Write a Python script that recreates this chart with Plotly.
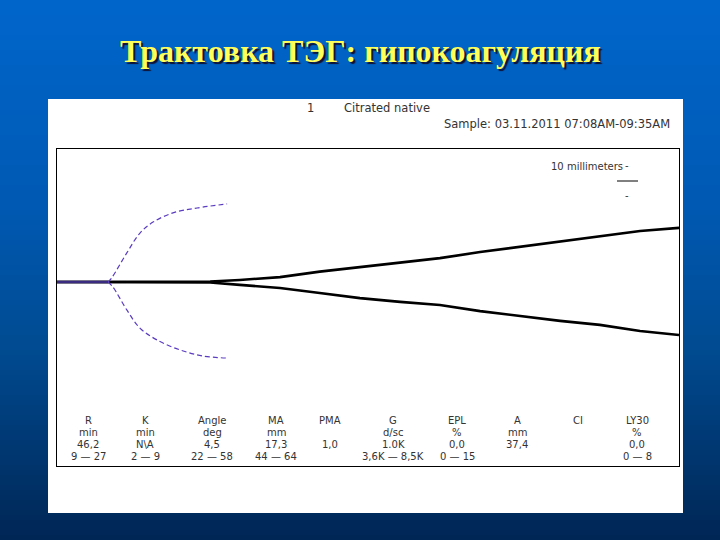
import numpy as np
import plotly.graph_objects as go

# ---------------- data ----------------
# TEG trace: time (min) vs half-amplitude (mm)
trace_time = [0, 36.2, 43.2, 52.7, 62.1, 71.6, 81.1, 90.5, 100.0, 109.4, 118.9, 128.3, 137.8, 147.0]
trace_upper = [0, 0.17, 0.7, 1.7, 3.6, 5.2, 6.6, 8.3, 10.4, 12.2, 14.2, 16.0, 17.7, 18.8]
trace_lower = [0, -0.17, -1.0, -2.1, -3.8, -5.6, -6.9, -8.0, -10.1, -11.8, -13.5, -14.9, -17.0, -18.4]

# Reference (normal) envelope
ref_base_time = [0, 12.05]
ref_base_amp = [0, 0]
ref_time_upper = [12.05, 12.9, 16.5, 19.6, 22.7, 27.4, 33.1, 40.2]
ref_upper = [0, 1.4, 10.1, 17.0, 20.8, 24.0, 25.7, 27.1]
ref_time_lower = [12.05, 13.2, 16.5, 19.6, 23.6, 29.1, 34.5, 40.2]
ref_lower = [0, -1.7, -9.7, -16.0, -20.1, -23.6, -25.7, -26.4]

# Parameter table
param_names = ["R", "K", "Angle", "MA", "PMA", "G", "EPL", "A", "CI", "LY30"]
param_units = ["min", "min", "deg", "mm", "", "d/sc", "%", "mm", "", "%"]
param_values = ["46,2", "N\\A", "4,5", "17,3", "1,0", "1.0K", "0,0", "37,4", "", "0,0"]
param_ranges = ["9 — 27", "2 — 9", "22 — 58", "44 — 64", "", "3,6K — 8,5K", "0 — 15", "", "", "0 — 8"]

title_text = "Трактовка ТЭГ: гипокоагуляция"

# ---------------- layout helpers ----------------
W, H = 720, 540
L, R, T, B = 57, 679, 149, 466


def px(x):
    return (x - L) / (R - L)


def py(y):
    return (B - y) / (B - T)


fig = go.Figure()

fig.add_trace(go.Scatter(x=trace_time, y=trace_upper, mode="lines",
                         line=dict(color="black", width=2.6), hoverinfo="skip"))
fig.add_trace(go.Scatter(x=trace_time, y=trace_lower, mode="lines",
                         line=dict(color="black", width=2.6), hoverinfo="skip"))
fig.add_trace(go.Scatter(x=ref_time_upper, y=ref_upper, mode="lines",
                         line=dict(color="#5a3cc0", width=1.2, dash="5px,3px", shape="spline"),
                         hoverinfo="skip"))
fig.add_trace(go.Scatter(x=ref_time_lower, y=ref_lower, mode="lines",
                         line=dict(color="#5a3cc0", width=1.2, dash="5px,3px", shape="spline"),
                         hoverinfo="skip"))
fig.add_trace(go.Scatter(x=ref_base_time, y=ref_base_amp, mode="lines",
                         line=dict(color="#3a2a80", width=2.6), hoverinfo="skip"))

shapes = []
# background gradient
stops_y = [0, 200, 350, 540]
stops_g = [102, 90, 75, 38]
stops_b = [204, 180, 145, 85]
step = 5
for y0 in range(0, H, step):
    yc = y0 + step / 2
    g = np.interp(yc, stops_y, stops_g)
    b = np.interp(yc, stops_y, stops_b)
    shapes.append(dict(type="rect", xref="paper", yref="paper",
                       x0=px(0), x1=px(W), y0=py(y0 + step + 0.5), y1=py(y0),
                       fillcolor=f"rgb(0,{int(g)},{int(b)})", line=dict(width=0), layer="below"))
# white panel
shapes.append(dict(type="rect", xref="paper", yref="paper",
                   x0=px(48), x1=px(683), y0=py(513), y1=py(99),
                   fillcolor="white", line=dict(width=0), layer="below"))
# scale bar line
shapes.append(dict(type="line", xref="paper", yref="paper",
                   x0=px(617), x1=px(638), y0=py(181), y1=py(181),
                   line=dict(color="black", width=1)))

annotations = []
# title with shadow
annotations.append(dict(text=f"<b>{title_text}</b>", xref="paper", yref="paper",
                        x=px(360), y=py(51), xanchor="center", yanchor="middle",
                        showarrow=False,
                        font=dict(family="Liberation Serif", size=32, color="#ffff5a",
                                  shadow="2px 2px 1px #101030")))

hdr_font = dict(family="DejaVu Sans", size=11.5, color="#333333")
annotations.append(dict(text="1", xref="paper", yref="paper", x=px(310), y=py(108),
                        xanchor="center", yanchor="middle", showarrow=False, font=hdr_font))
annotations.append(dict(text="Citrated native", xref="paper", yref="paper", x=px(342), y=py(108),
                        xanchor="left", yanchor="middle", showarrow=False, font=hdr_font))
annotations.append(dict(text="Sample: 03.11.2011 07:08AM-09:35AM", xref="paper", yref="paper",
                        x=px(672), y=py(124), xanchor="right", yanchor="middle",
                        showarrow=False, font=hdr_font))

small_font = dict(family="DejaVu Sans", size=10, color="#333333")
annotations.append(dict(text="10 millimeters", xref="paper", yref="paper", x=px(549), y=py(166),
                        xanchor="left", yanchor="middle", showarrow=False, font=small_font))
for yy in (165, 195):
    annotations.append(dict(text="-", xref="paper", yref="paper", x=px(627), y=py(yy),
                            xanchor="center", yanchor="middle", showarrow=False, font=small_font))

col_x = [88, 145, 212, 276, 330, 393, 457, 517, 578, 637]
row_y = [420, 432, 444, 456]
for i, cx in enumerate(col_x):
    for ry, txt in zip(row_y, [param_names[i], param_units[i], param_values[i], param_ranges[i]]):
        if txt:
            annotations.append(dict(text=txt, xref="paper", yref="paper", x=px(cx), y=py(ry),
                                    xanchor="center", yanchor="middle", showarrow=False,
                                    font=small_font))

y_top = (282 - T) / 2.88
y_bot = -(B - 282) / 2.88

fig.update_layout(
    width=W, height=H,
    margin=dict(l=L, r=W - R, t=T, b=H - B, pad=0),
    paper_bgcolor="#004c99",
    plot_bgcolor="white",
    showlegend=False,
    shapes=shapes,
    annotations=annotations,
    xaxis=dict(range=[0, 147], showgrid=False, zeroline=False, showticklabels=False, ticks="",
               showline=True, mirror=True, linecolor="black", linewidth=1),
    yaxis=dict(range=[y_bot, y_top], showgrid=False, zeroline=False, showticklabels=False, ticks="",
               showline=True, mirror=True, linecolor="black", linewidth=1),
)

fig.write_html("out.html", config={"displayModeBar": False},
               post_script="document.body.style.margin='0px';document.body.style.overflow='hidden';")
